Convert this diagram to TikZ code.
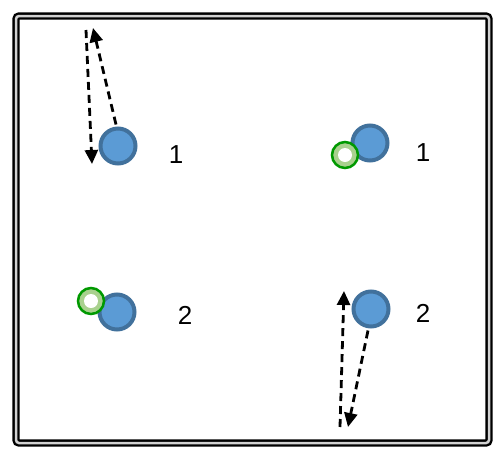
\documentclass[tikz,border=0pt]{standalone}
\usepackage{fontspec}
\setmainfont{Liberation Sans}
\usetikzlibrary{arrows.meta}

\definecolor{ballfill}{RGB}{91,155,213}
\definecolor{balledge}{RGB}{65,113,156}
\definecolor{ringgreen}{RGB}{0,153,0}
\definecolor{ringlight}{RGB}{169,209,142}

\tikzset{
    ball/.style={circle, draw=balledge, fill=ballfill, line width=4pt, minimum size=35pt, inner sep=0},
    ring/.style={circle, draw=ringgreen, fill=ringlight, line width=2.5pt, minimum size=26pt, inner sep=0,
        path picture={\fill[white] (path picture bounding box.center) circle (7);}},
    run/.style={dash pattern=on 8pt off 5pt, line width=2.8pt, -{Triangle[length=14pt, width=13pt]}},
    num/.style={font=\fontsize{26}{26}\selectfont}
}

\begin{document}
\begin{tikzpicture}[x=1pt, y=-1pt]
    \useasboundingbox (0,0) rectangle (496,448);
    \draw[line width=2.4pt, double=gray!35, double distance=2.5pt, rounded corners=3pt] (16,16) rectangle (489,443);

    % top left
    \node[ball] (B1) at (118,146) {};
    \node[num] (N1) at (176,155) {1};
    \coordinate (P1) at (93,28);
    \coordinate (Q1) at (86,30);
    \coordinate (R1) at (92,164);
    \draw[run] ([shift={(-2,-2)}]B1.north) -- (P1);
    \draw[run] (Q1) -- (R1);

    % top right
    \node[ball] (B2) at (370,143) {};
    \node[ring] (G2) at (345,155) {};
    \node[num] (N2) at (423,153) {1};

    % bottom left
    \node[ball] (B3) at (117,312) {};
    \node[ring] (G3) at (91,301) {};
    \node[num] (N3) at (185,315) {2};

    % bottom right
    \node[ball] (B4) at (371,309) {};
    \node[num] (N4) at (423,313) {2};
    \coordinate (P4) at (344,291);
    \coordinate (Q4) at (340,427);
    \coordinate (R4) at (348,427);
    \draw[run] (Q4) -- (P4);
    \draw[run] ([shift={(-3,2)}]B4.south) -- (R4);
\end{tikzpicture}
\end{document}
